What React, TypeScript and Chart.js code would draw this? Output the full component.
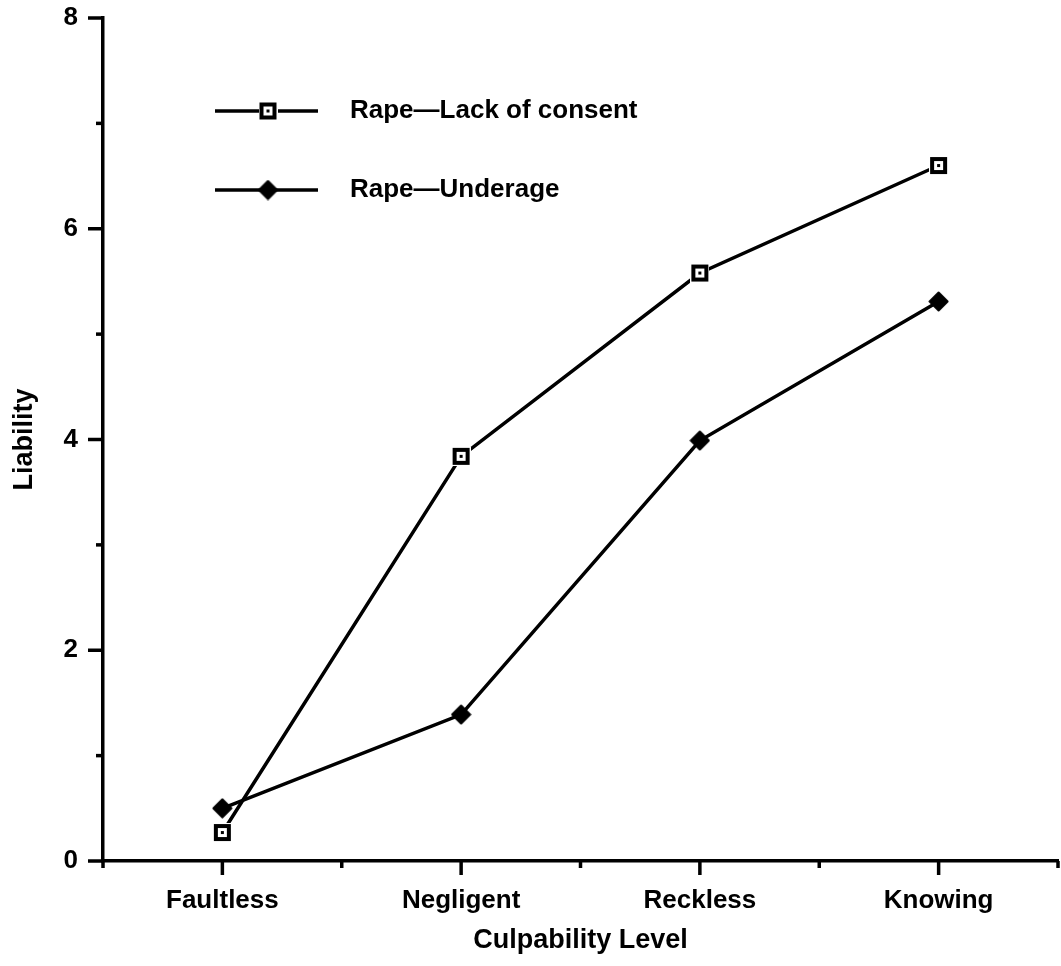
import React, { useEffect, useRef } from 'react';
import { Chart, registerables } from 'chart.js';

Chart.register(...registerables);

const categories = ['Faultless', 'Negligent', 'Reckless', 'Knowing'];
const lackOfConsent = [0.27, 3.84, 5.58, 6.6];
const underage = [0.5, 1.39, 3.99, 5.31];
const yMajorTicks = [0, 2, 4, 6, 8];
const seriesLabels = ['Rape\u2014Lack of consent', 'Rape\u2014Underage'];
const xTitle = 'Culpability Level';
const yTitle = 'Liability';

const FONT = '"Liberation Sans", Arial, Helvetica, sans-serif';

function makeSquare(): HTMLCanvasElement {
  const c = document.createElement('canvas');
  c.width = 19;
  c.height = 19;
  const g = c.getContext('2d')!;
  g.fillStyle = '#fff';
  g.fillRect(0, 0, 19, 19);
  g.fillStyle = '#000';
  g.fillRect(1, 1, 17, 17);
  g.fillStyle = '#fff';
  g.fillRect(5, 5, 9, 9);
  g.fillStyle = '#000';
  g.fillRect(8, 8, 3, 3);
  return c;
}

function makeDiamond(): HTMLCanvasElement {
  const c = document.createElement('canvas');
  c.width = 21;
  c.height = 21;
  const g = c.getContext('2d')!;
  g.fillStyle = '#000';
  g.strokeStyle = '#000';
  g.lineJoin = 'round';
  g.lineWidth = 2;
  g.beginPath();
  g.moveTo(10.5, 1.5);
  g.lineTo(19.5, 10.5);
  g.lineTo(10.5, 19.5);
  g.lineTo(1.5, 10.5);
  g.closePath();
  g.fill();
  g.stroke();
  return c;
}

export default function App() {
  const ref = useRef<HTMLCanvasElement>(null);

  useEffect(() => {
    document.body.style.margin = '0';
    const square = makeSquare();
    const diamond = makeDiamond();

    const axisTicks = {
      id: 'axisTicks',
      afterDraw(chart: any) {
        const { ctx, chartArea, scales } = chart;
        const x = scales.x;
        const y = scales.y;
        ctx.save();
        ctx.strokeStyle = '#000';
        ctx.lineWidth = 3.5;
        const line = (x1: number, y1: number, x2: number, y2: number) => {
          ctx.beginPath();
          ctx.moveTo(x1, y1);
          ctx.lineTo(x2, y2);
          ctx.stroke();
        };
        y.ticks.forEach((t: any) => {
          const py = y.getPixelForValue(t.value);
          const len = yMajorTicks.includes(t.value) ? 15 : 7;
          line(chartArea.left - len, py, chartArea.left, py);
        });
        for (let i = 0; i < categories.length; i++) {
          const px = x.getPixelForValue(i);
          line(px, chartArea.bottom, px, chartArea.bottom + 14);
        }
        for (let i = 0; i <= categories.length; i++) {
          const px = x.getPixelForValue(i - 0.5);
          line(px, chartArea.bottom, px, chartArea.bottom + 7);
        }
        ctx.restore();
      },
    };

    const insideLegend = {
      id: 'insideLegend',
      afterDraw(chart: any) {
        const { ctx } = chart;
        const rows = [
          { y: 111, img: square, label: seriesLabels[0] },
          { y: 190, img: diamond, label: seriesLabels[1] },
        ];
        ctx.save();
        rows.forEach((r) => {
          ctx.strokeStyle = '#000';
          ctx.lineWidth = 3.5;
          ctx.beginPath();
          ctx.moveTo(215, r.y);
          ctx.lineTo(318, r.y);
          ctx.stroke();
          ctx.drawImage(r.img, 268 - r.img.width / 2, r.y - r.img.height / 2);
          ctx.fillStyle = '#000';
          ctx.font = `bold 26px ${FONT}`;
          ctx.textAlign = 'left';
          ctx.textBaseline = 'middle';
          ctx.fillText(r.label, 350, r.y);
        });
        ctx.restore();
      },
    };

    const chart = new Chart(ref.current!, {
      type: 'line',
      data: {
        labels: categories,
        datasets: [
          {
            label: seriesLabels[0],
            data: lackOfConsent,
            borderColor: '#000',
            borderWidth: 3.5,
            pointStyle: square as any,
            pointRadius: 9,
            tension: 0,
          },
          {
            label: seriesLabels[1],
            data: underage,
            borderColor: '#000',
            borderWidth: 3.5,
            pointStyle: diamond as any,
            pointRadius: 9,
            tension: 0,
          },
        ],
      },
      options: {
        responsive: false,
        animation: false,
        devicePixelRatio: 1,
        layout: { autoPadding: false, padding: { top: 18, right: 3, left: 0, bottom: 0 } },
        plugins: {
          legend: { display: false },
          tooltip: { enabled: false },
        },
        scales: {
          x: {
            type: 'category',
            offset: true,
            grid: { display: false, drawTicks: false },
            border: { display: true, color: '#000', width: 3.5 },
            ticks: {
              color: '#000',
              font: { family: FONT, size: 26, weight: 'bold' },
              padding: 24,
              maxRotation: 0,
              autoSkip: false,
            },
            title: {
              display: true,
              text: xTitle,
              color: '#000',
              font: { family: FONT, size: 27, weight: 'bold' },
              padding: { top: 0, bottom: 9 },
            },
            afterFit: (s: any) => {
              s.height = 105;
              s.paddingLeft = 0;
              s.paddingRight = 0;
            },
          },
          y: {
            min: 0,
            max: 8,
            grid: { display: false, drawTicks: false },
            border: { display: true, color: '#000', width: 3.5 },
            ticks: {
              stepSize: 1,
              autoSkip: false,
              color: '#000',
              font: { family: FONT, size: 26, weight: 'bold' },
              padding: 25,
              callback: (v: any) => (yMajorTicks.includes(Number(v)) ? String(v) : ''),
            },
            title: {
              display: true,
              text: yTitle,
              color: '#000',
              font: { family: FONT, size: 27, weight: 'bold' },
              padding: { top: 8, bottom: 0 },
            },
            afterFit: (s: any) => {
              s.width = 103;
              s.paddingTop = 0;
              s.paddingBottom = 0;
            },
          },
        },
      },
      plugins: [axisTicks, insideLegend],
    });
    return () => chart.destroy();
  }, []);

  return (
    <div style={{ width: 1061, height: 966, background: '#fff' }}>
      <canvas ref={ref} width={1061} height={966} style={{ display: 'block' }} />
    </div>
  );
}
